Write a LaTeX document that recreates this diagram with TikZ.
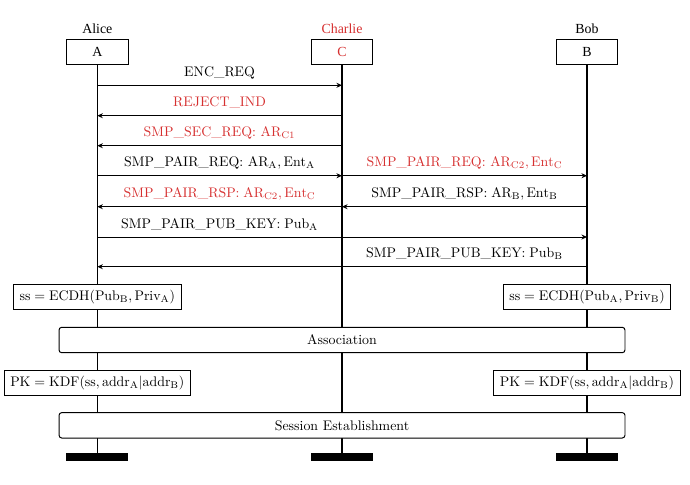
\documentclass[tikz,border=0pt]{standalone}
\usepackage{fontspec}
\newfontfamily\hdfont{Liberation Serif}
\usetikzlibrary{arrows.meta}
\definecolor{cred}{RGB}{214,48,48}
\begin{document}
\begin{tikzpicture}[x=0.72pt,y=-0.72pt,
  hd/.style={anchor=base,inner sep=0pt,font=\hdfont},
  inst/.style={draw,line width=0.7pt,fill=white,minimum width=44.6pt,minimum height=18pt,inner sep=0pt,font=\hdfont},
  endbar/.style={fill=black,minimum width=44.6pt,minimum height=5.3pt,inner sep=0pt},
  lifeline/.style={line width=1pt},
  msg/.style={line width=0.6pt,-{Stealth[length=4pt,width=3.6pt]}},
  lbl/.style={anchor=base,inner sep=0pt},
  calcbox/.style={draw,line width=0.7pt,fill=white,minimum height=18pt,inner xsep=4.5pt,inner ysep=0pt},
  phase/.style={draw,line width=0.7pt,fill=white,rounded corners=2pt,minimum width=407.5pt,minimum height=18.3pt,inner sep=0pt},
]
\path[use as bounding box] (0,0) rectangle (690,484);

% instances
\node[hd] (alice) at (97.3,33.5) {Alice};
\node[hd,text=cred] (charlie) at (342,33.5) {Charlie};
\node[hd] (bob) at (587,33.5) {Bob};
\node[inst] (A) at (97.3,51.8) {A};
\node[inst,text=cred] (C) at (342,51.8) {C};
\node[inst] (B) at (587,51.8) {B};
\node[endbar] (Aend) at (97.3,457) {};
\node[endbar] (Cend) at (342,457) {};
\node[endbar] (Bend) at (587,457) {};

% lifelines
\draw[lifeline] (A) -- (Aend);
\draw[lifeline] (C) -- (Cend);
\draw[lifeline] (B) -- (Bend);

% message anchor points
\foreach \i/\y in {1/85.3,2/115.7,3/145.7,4/175.7,5/206.7,6/237,7/266.7}{
  \coordinate (A\i) at (97.3,\y);
  \coordinate (C\i) at (342,\y);
  \coordinate (B\i) at (587,\y);
}

% messages
\draw[msg] (A1) -- (C1);
\node[lbl] (l1) at (219.6,76.3) {ENC\_REQ};
\draw[msg] (C2) -- (A2);
\node[lbl,text=cred] (l2) at (219.6,106.7) {REJECT\_IND};
\draw[msg] (C3) -- (A3);
\node[lbl,text=cred] (l3) at (219.6,136.7) {SMP\_SEC\_REQ: AR$_{\mathrm{C1}}$};
\draw[msg] (A4) -- (C4);
\node[lbl] (l4) at (219.6,166.7) {SMP\_PAIR\_REQ: $\mathrm{AR_A},\mathrm{Ent_A}$};
\draw[msg] (C4) -- (B4);
\node[lbl,text=cred] (l5) at (464.5,166.7) {SMP\_PAIR\_REQ: $\mathrm{AR_{C2}},\mathrm{Ent_C}$};
\draw[msg] (C5) -- (A5);
\node[lbl,text=cred] (l6) at (219.6,197.7) {SMP\_PAIR\_RSP$:\mathrm{AR_{C2}},\mathrm{Ent_C}$};
\draw[msg] (B5) -- (C5);
\node[lbl] (l7) at (464.5,197.7) {SMP\_PAIR\_RSP$:\mathrm{AR_B},\mathrm{Ent_B}$};
\draw[msg] (A6) -- (B6);
\node[lbl] (l8) at (219.6,228) {SMP\_PAIR\_PUB\_KEY$:\mathrm{Pub_A}$};
\draw[msg] (B7) -- (A7);
\node[lbl] (l9) at (464.5,257.7) {SMP\_PAIR\_PUB\_KEY$:\mathrm{Pub_B}$};

% computations
\node[calcbox] (ssA) at (97.3,297) {$\mathrm{ss}=\mathrm{ECDH}(\mathrm{Pub_B},\mathrm{Priv_A})$};
\node[calcbox] (ssB) at (587,297) {$\mathrm{ss}=\mathrm{ECDH}(\mathrm{Pub_A},\mathrm{Priv_B})$};
\node[phase] (assoc) at (342,340) {Association};
\node[calcbox] (pkA) at (97.3,382.7) {$\mathrm{PK}=\mathrm{KDF}(\mathrm{ss},\mathrm{addr_A}|\mathrm{addr_B})$};
\node[calcbox] (pkB) at (587,382.7) {$\mathrm{PK}=\mathrm{KDF}(\mathrm{ss},\mathrm{addr_A}|\mathrm{addr_B})$};
\node[phase] (sess) at (342,425.3) {Session Establishment};
\end{tikzpicture}
\end{document}
